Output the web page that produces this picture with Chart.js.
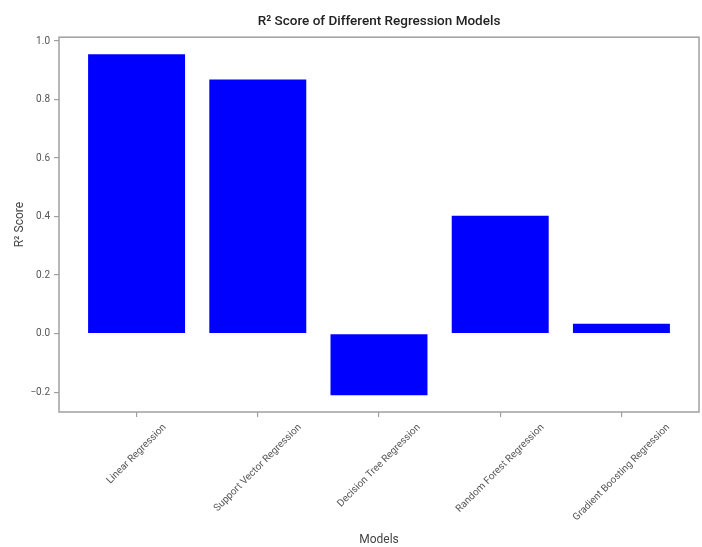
<!DOCTYPE html>
<html>
<head>
<meta charset="utf-8">
<script src="https://cdn.jsdelivr.net/npm/chart.js@4.4.1/dist/chart.umd.min.js"></script>
<style>
  html, body { margin: 0; padding: 0; background: #fff; }
  #wrap { width: 702px; height: 547px; }
</style>
</head>
<body>
<div id="wrap"><canvas id="chart" width="702" height="547"></canvas></div>
<script>
// ── DATA ──
const models   = ["Linear Regression", "Support Vector Regression", "Decision Tree Regression",
                  "Random Forest Regression", "Gradient Boosting Regression"];
const r2Scores = [0.955, 0.868, -0.211, 0.403, 0.034];
const yTicks   = [-0.2, 0.0, 0.2, 0.4, 0.6, 0.8, 1.0];

const AXIS_GRAY = "#a0a0a0";
const TEXT_GRAY = "#555";

// frame round the plot area (matplotlib style box)
const framePlugin = {
  id: "frame",
  afterDatasetsDraw(chart) {
    const { ctx, chartArea: a } = chart;
    ctx.save();
    ctx.strokeStyle = AXIS_GRAY;
    ctx.lineWidth = 1.5;
    ctx.strokeRect(a.left, a.top, a.right - a.left, a.bottom - a.top);
    ctx.restore();
  }
};

// rotated x labels, centred under each tick like ha="center"
const xLabelPlugin = {
  id: "xLabels",
  afterDraw(chart) {
    const { ctx, chartArea: a } = chart;
    const xs = chart.scales.x;
    ctx.save();
    ctx.font = "10px Roboto";
    ctx.fillStyle = TEXT_GRAY;
    ctx.textAlign = "center";
    ctx.textBaseline = "middle";
    const h = 11;
    const top = a.bottom + 10;
    models.forEach((m, i) => {
      const w = ctx.measureText(m).width;
      const half = (w + h) * Math.SQRT1_2 / 2;
      const cx = xs.getPixelForValue(i);
      ctx.save();
      ctx.translate(cx, top + half);
      ctx.rotate(-Math.PI / 4);
      ctx.fillText(m, 0, 0);
      ctx.restore();
    });
    ctx.restore();
  }
};

new Chart(document.getElementById("chart"), {
  type: "bar",
  data: {
    datasets: [{
      data: r2Scores.map((v, i) => ({ x: i, y: v })),
      backgroundColor: "#0000ff",
      borderWidth: 0,
      barPercentage: 0.8,
      categoryPercentage: 1.0
    }]
  },
  options: {
    responsive: false,
    animation: false,
    layout: { padding: { top: 0, left: 0, right: 3, bottom: 0 } },
    plugins: {
      legend: { display: false },
      tooltip: { enabled: false },
      title: {
        display: true,
        text: "R² Score of Different Regression Models",
        fullSize: false,
        color: "#222",
        font: { family: "Roboto", size: 13.5, weight: "500" },
        padding: { top: 14, bottom: 7 }
      }
    },
    scales: {
      x: {
        type: "linear",
        offset: false,
        min: -0.64,
        max: 4.64,
        afterBuildTicks: s => { s.ticks = models.map((m, i) => ({ value: i })); },
        afterFit: s => { s.height = 135; },
        ticks: { display: false },
        grid: { offset: false, drawOnChartArea: false, drawTicks: true, tickLength: 5, color: AXIS_GRAY, lineWidth: 1.2 },
        border: { display: false },
        title: {
          display: true,
          text: "Models",
          color: "#444",
          font: { family: "Roboto", size: 12 },
          padding: { top: 0, bottom: 0 }
        }
      },
      y: {
        min: -0.268,
        max: 1.013,
        afterBuildTicks: s => { s.ticks = yTicks.map(v => ({ value: v })); },
        afterFit: s => { s.width = 59; },
        ticks: {
          color: TEXT_GRAY,
          font: { family: "Roboto", size: 10 },
          padding: 4,
          callback: v => (v < 0 ? "−" : "") + Math.abs(v).toFixed(1)
        },
        grid: { drawOnChartArea: false, drawTicks: true, tickLength: 5, color: AXIS_GRAY, lineWidth: 1.2 },
        border: { display: false },
        title: {
          display: true,
          text: "R² Score",
          color: "#444",
          font: { family: "Roboto", size: 12 },
          padding: { top: 13, bottom: 0 }
        }
      }
    }
  },
  plugins: [framePlugin, xLabelPlugin]
});
</script>
</body>
</html>
